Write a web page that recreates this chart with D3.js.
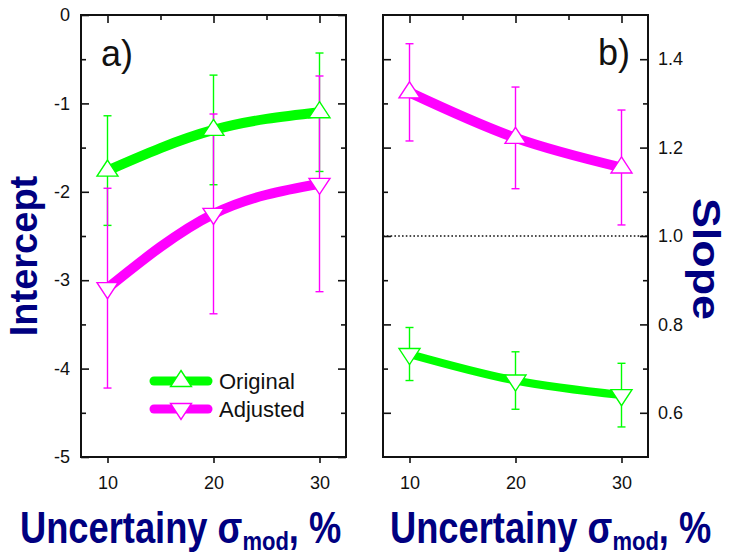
<!DOCTYPE html>
<html>
<head>
<meta charset="utf-8">
<script src="https://cdn.jsdelivr.net/npm/d3@7"></script>
<style>
  body { margin: 0; background: #fff; }
  svg { display: block; font-family: "Liberation Sans", Arial, sans-serif; }
  .tick text { font-size: 18px; fill: #111; font-family: "Liberation Sans", Arial, sans-serif; }
  .tick line { stroke: #111; stroke-width: 1.6; }
</style>
</head>
<body>
<div id="chart"></div>
<script>
// data
const sigma = [10, 20, 30];
const interceptOrig = [-1.76, -1.30, -1.10];
const interceptOrigErr = [0.62, 0.62, 0.67];
const interceptAdj = [-3.09, -2.25, -1.91];
const interceptAdjErr = [1.13, 1.13, 1.22];
const slopeAdj = [1.325, 1.222, 1.155];
const slopeAdjErr = [0.11, 0.115, 0.13];
const slopeOrig = [0.733, 0.673, 0.64];
const slopeOrigErr = [0.06, 0.065, 0.072];
const interceptTicks = [-5, -4, -3, -2, -1, 0];
const slopeTicks = [0.6, 0.8, 1.0, 1.2, 1.4];

const w = 729, h = 556;
const green = "#00ff00", magenta = "#ff00ff", navy = "#000080";

const svg = d3.select("#chart").append("svg")
  .attr("width", w).attr("height", h);

const yTop = 15, yBottom = 457;

const upTri = "M0,-10.5L10.5,5.5L-10.5,5.5Z";
const downTri = "M-10.5,-5.5L10.5,-5.5L0,10.5Z";

// plain hyphen instead of unicode minus, like the original
const fmtInt = d => String(d);
const fmt1 = d => d.toFixed(1);

// one panel: frame, axes, series
function panel(x0, x1, yDomain, opts) {
  const g = svg.append("g");
  const x = d3.scaleLinear().domain([7.5, 32.5]).range([x0, x1]);
  const y = d3.scaleLinear().domain(yDomain).range([yBottom, yTop]);

  // top ticks (inward)
  g.append("g").attr("transform", "translate(0," + yTop + ")")
    .call(d3.axisTop(x).tickValues(sigma).tickSize(-8).tickSizeOuter(0).tickFormat(""));
  g.append("g").attr("transform", "translate(0," + yTop + ")")
    .call(d3.axisTop(x).tickValues([15, 25]).tickSize(-5).tickSizeOuter(0).tickFormat(""));
  // bottom ticks (outward) with labels
  g.append("g").attr("transform", "translate(0," + yBottom + ")")
    .call(d3.axisBottom(x).tickValues(sigma).tickSize(6).tickPadding(13).tickSizeOuter(0));

  // left / right ticks
  const labelLeft = opts.labelSide == "left";
  const labelX = labelLeft ? x0 : x1, otherX = labelLeft ? x1 : x0;
  const sideA = labelLeft ? d3.axisLeft : d3.axisRight;
  const sideB = labelLeft ? d3.axisRight : d3.axisLeft;
  g.append("g").attr("transform", "translate(" + labelX + ",0)")
    .call(sideA(y).tickValues(opts.major).tickSize(-8).tickPadding(labelLeft ? 11 : 10)
      .tickSizeOuter(0).tickFormat(opts.fmt));
  g.append("g").attr("transform", "translate(" + labelX + ",0)")
    .call(sideA(y).tickValues(opts.minor).tickSize(-5).tickSizeOuter(0).tickFormat(""));
  g.append("g").attr("transform", "translate(" + otherX + ",0)")
    .call(sideB(y).tickValues(opts.major).tickSize(-8).tickSizeOuter(0).tickFormat(""));
  g.append("g").attr("transform", "translate(" + otherX + ",0)")
    .call(sideB(y).tickValues(opts.minor).tickSize(-5).tickSizeOuter(0).tickFormat(""));
  g.selectAll(".domain").remove();

  if (opts.refLine != null) {
    g.append("line")
      .attr("x1", x0).attr("x2", x1)
      .attr("y1", y(opts.refLine)).attr("y2", y(opts.refLine))
      .attr("stroke", "#111").attr("stroke-width", 1.6)
      .attr("stroke-dasharray", "1.6,2.2");
  }

  // frame
  g.append("rect")
    .attr("x", x0).attr("y", yTop)
    .attr("width", x1 - x0).attr("height", yBottom - yTop)
    .attr("fill", "none").attr("stroke", "#111").attr("stroke-width", 2);

  const line = d3.line().x((d, i) => x(sigma[i])).y(d => y(d)).curve(d3.curveNatural);

  opts.series.forEach(s => {
    g.append("path").datum(s.values)
      .attr("d", line)
      .attr("fill", "none").attr("stroke", s.color)
      .attr("stroke-width", s.width).attr("stroke-linecap", "round");
  });
  opts.series.forEach(s => {
    const eb = g.append("g").attr("stroke", s.color).attr("stroke-width", 1.4);
    s.values.forEach((v, i) => {
      const cx = x(sigma[i]);
      const y1 = y(v + s.err[i]), y2 = y(v - s.err[i]);
      eb.append("line").attr("x1", cx).attr("x2", cx).attr("y1", y1).attr("y2", y2);
      eb.append("line").attr("x1", cx - 4).attr("x2", cx + 4).attr("y1", y1).attr("y2", y1);
      eb.append("line").attr("x1", cx - 4).attr("x2", cx + 4).attr("y1", y2).attr("y2", y2);
    });
  });
  opts.series.forEach(s => {
    g.selectAll(null).data(s.values).enter().append("path")
      .attr("d", s.up ? upTri : downTri)
      .attr("transform", (d, i) => "translate(" + x(sigma[i]) + "," + y(d) + ")")
      .attr("fill", "#fff").attr("stroke", s.color).attr("stroke-width", 1.4);
  });
  return { g, x, y };
}

panel(81, 346, [-5, 0], {
  labelSide: "left",
  major: interceptTicks,
  minor: [-4.5, -3.5, -2.5, -1.5, -0.5],
  fmt: fmtInt,
  series: [
    { values: interceptOrig, err: interceptOrigErr, color: green, width: 10, up: true },
    { values: interceptAdj, err: interceptAdjErr, color: magenta, width: 10, up: false }
  ]
});

panel(383, 648, [0.5, 1.5], {
  labelSide: "right",
  major: slopeTicks,
  minor: [0.7, 0.9, 1.1, 1.3],
  fmt: fmt1,
  refLine: 1.0,
  series: [
    { values: slopeAdj, err: slopeAdjErr, color: magenta, width: 10, up: true },
    { values: slopeOrig, err: slopeOrigErr, color: green, width: 8, up: false }
  ]
});

// panel tags
svg.append("text").attr("x", 101).attr("y", 66)
  .style("font-size", "36px").attr("fill", "#111").text("a)");
svg.append("text").attr("x", 598).attr("y", 65)
  .style("font-size", "36px").attr("fill", "#111").text("b)");

// legend
const legend = svg.append("g");
const legendItems = [
  { label: "Original", color: green, up: true, y: 381 },
  { label: "Adjusted", color: magenta, up: false, y: 409 }
];
legendItems.forEach(d => {
  legend.append("line")
    .attr("x1", 154).attr("x2", 208).attr("y1", d.y).attr("y2", d.y)
    .attr("stroke", d.color).attr("stroke-width", 9).attr("stroke-linecap", "round");
  legend.append("path")
    .attr("d", d.up ? upTri : downTri)
    .attr("transform", "translate(181," + d.y + ")")
    .attr("fill", "#fff").attr("stroke", d.color).attr("stroke-width", 1.4);
  legend.append("text")
    .attr("x", 219).attr("y", d.y + 8)
    .style("font-size", "22px").attr("fill", "#111").text(d.label);
});

// axis titles
svg.append("text")
  .attr("transform", "translate(37,256) rotate(-90)")
  .attr("text-anchor", "middle")
  .style("font-size", "38px").style("font-weight", "bold").attr("fill", navy)
  .text("Intercept");
svg.append("text")
  .attr("transform", "translate(693,259) rotate(90) scale(1.15,1)")
  .attr("text-anchor", "middle")
  .style("font-size", "39px").style("font-weight", "bold").attr("fill", navy)
  .text("Slope");

[20, 390].forEach(tx => {
  const t = svg.append("text")
    .attr("transform", "translate(" + tx + ",543) scale(1,1.2)")
    .style("font-size", "36.3px").style("font-weight", "bold").attr("fill", navy);
  t.append("tspan").text("Uncertainy σ");
  t.append("tspan").attr("dy", 6).style("font-size", "22px").text("mod");
  t.append("tspan").attr("dy", -6).text(", %");
});
</script>
</body>
</html>
